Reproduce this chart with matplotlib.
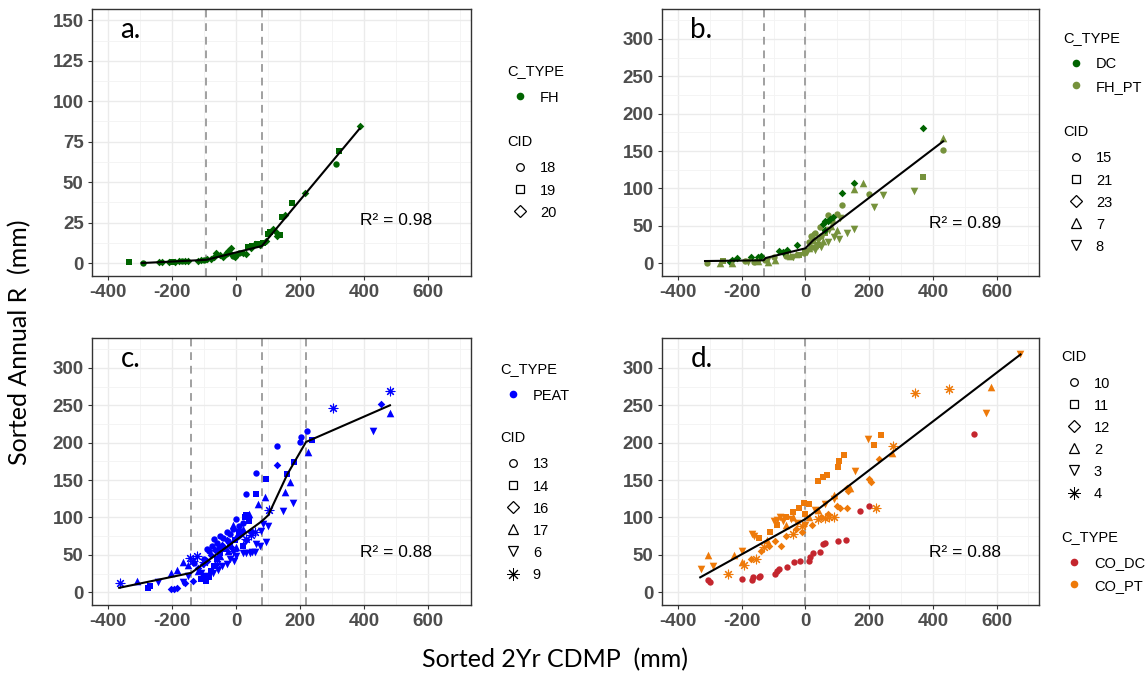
import matplotlib
matplotlib.use("Agg")
import matplotlib.pyplot as plt
from matplotlib.lines import Line2D
from matplotlib.ticker import MultipleLocator

# ---- data ----
# panel a: C_TYPE FH
a_cids = ['18', '19', '20']
a_types = ['FH', 'FH', 'FH']
a_x = [[-292, -170, -100, -32, -10, 10, 311],
       [-336, -200, 37, 50, 65, 85, 99, 105, 136, 144, 173, 322],
       [-240, -232, -210, -190, -178, -160, -150, -120, -110, -92,
        -80, -70, -62, -50, -40, -26, -20, -16, -5, 0,
        20, 30, 45, 58, 75, 92, 115, 125, 128, 152, 214, 385]]
a_y = [[0.2, 1.2, 2.0, 5.5, 4.5, 6.5, 61.0],
       [0.5, 0.9, 10.0, 10.5, 12.0, 12.5, 18.0, 19.5, 17.3, 28.6, 37.0, 69.5],
       [0.4, 0.8, 0.6, 0.8, 1.0, 1.1, 1.3, 1.4, 1.8, 2.2,
        2.6, 3.5, 6.0, 4.8, 4.0, 7.6, 6.5, 9.0, 3.5, 5.0,
        6.0, 5.5, 9.0, 11.5, 11.0, 13.5, 21.0, 19.5, 17.0, 30.0, 43.4, 84.5]]
a_fit_x = [-295, -93, 80, 385]
a_fit_y = [0.0, 2.0, 10.5, 83.0]
a_breaks = [-93, 80]

# panel b: C_TYPE DC / FH_PT
b_cids = ['15', '21', '23', '7', '8']
b_types = ['FH_PT', 'FH_PT', 'DC', 'FH_PT', 'FH_PT']
b_x = [[-310, -190, -162, -126, -100, -60, -5, 10, 16, 20, 30, 45, 50, 70, 85, 99, 115, 201, 432],
       [-260, -150, -60, -20, 0, 25, 40, 60, 368],
       [-237, -230, -216, -172, -150, -140, -83, -70, -58, -26, 55, 60, 62, 70, 78, 88, 115, 151, 370],
       [-268, -230, -150, -116, -95, -48, -30, 10, 20, 30, 55, 80, 100, 151, 182, 432],
       [-180, -120, -40, 5, 30, 40, 50, 70, 75, 90, 104, 110, 130, 153, 214, 243, 341]]
b_y = [[0.5, 3, 2, 4, 8, 10, 14, 28, 37, 22, 40, 48, 36, 64, 56, 66, 78, 93, 152],
       [3, 2, 12, 11, 16, 30, 25, 40, 115.5],
       [2, 5, 7.5, 8.5, 8.5, 9.5, 17, 15, 18, 24, 52, 44, 56, 57, 59, 62, 94, 107, 181],
       [0, 1, 3, 1.5, 4, 10, 12, 20, 38, 24, 30, 50, 45, 99, 107, 168],
       [2, 3, 9, 15, 18, 30, 22, 28, 45, 35, 33, 60, 40, 46, 75, 91, 96]]
b_fit_x = [-315, -131, -125, 0, 25, 75, 432]
b_fit_y = [3, 4, 7, 20, 31, 47, 163]
b_breaks = [-131, 0]

# panel c: C_TYPE PEAT
c_cids = ['13', '14', '16', '17', '6', '9']
c_types = ['PEAT'] * 6
c_x = [[-131, -100, -90, -84, -75, -68, -60, -55, -50, -40, -30, -25, -20, -10, 0, 5, 10, 20, 32, 63, 126, 199, 201, 222],
       [-274, -270, -110, -100, -95, -85, -80, -70, -60, -50, -35, -20, -5, 10, 20, 27, 32, 40, 61, 94, 158, 179, 237],
       [-203, -193, -185, -160, -134, -120, -105, -90, -78, -65, -45, -30, -15, 0, 15, 30, 45, 128, 452],
       [-311, -203, -184, -167, -150, -120, -50, -25, -10, 0, 20, 40, 68, 91, 152, 168, 223, 479],
       [-245, -167, -150, -109, -94, -73, -58, -45, -30, -20, -6, 1, 21, 32, 42, 50, 58, 63, 73, 78, 84, 94, 100, 146, 178, 428],
       [-363, -144, -135, -123, -100, -60, -10, 32, 47, 60, 103, 301, 479]]
c_y = [[39, 45, 58, 55, 62, 71, 66, 60, 75, 72, 80, 68, 78, 85, 98, 75, 88, 92, 132, 160, 196, 201, 208, 216],
       [6, 9, 18, 22, 15, 20, 28, 35, 45, 52, 58, 65, 70, 80, 62, 100, 104, 95, 131, 152, 158, 174, 204],
       [5, 5, 6, 12, 15, 32, 38, 42, 50, 56, 63, 70, 60, 72, 78, 70, 82, 170, 252],
       [15, 26, 30, 40, 36, 28, 48, 55, 90, 60, 85, 105, 118, 128, 134, 147, 187, 240],
       [14, 14, 22, 26, 22, 26, 30, 35, 38, 45, 42, 48, 52, 53, 53, 54, 54, 65, 62, 82, 91, 67, 88, 109, 119, 216],
       [12, 46, 42, 48, 40, 38, 55, 71, 76, 80, 110, 247, 269]]
c_fit_x = [-365, -140, 80, 100, 160, 218, 480]
c_fit_y = [6, 26, 95, 103, 158, 201, 250]
c_breaks = [-140, 80, 218]

# panel d: C_TYPE CO_DC / CO_PT
d_cids = ['10', '11', '12', '2', '3', '4']
d_types = ['CO_DC', 'CO_PT', 'CO_PT', 'CO_PT', 'CO_PT', 'CO_PT']
d_x = [[-307, -299, -198, -167, -165, -147, -141, -94, -88, -83, -57, -36, -16, 12, 15, 23, 45, 55, 63, 103, 126, 170, 201, 529],
       [-147, -110, -90, -60, -38, -21, -5, 0, 10, 38, 55, 68, 103, 104, 122, 216, 237],
       [-170, -140, -113, -96, -76, -60, -30, -10, 20, 50, 70, 99, 110, 130, 130, 135, 201, 205, 232],
       [-305, -224, -200, -120, -60, -40, 10, 40, 90, 140, 272, 583],
       [-328, -291, -200, -167, -160, -100, -90, -80, -70, -45, -27, 0, 30, 60, 90, 156, 196, 568, 674],
       [-243, -193, -156, -130, -40, -10, 40, 60, 75, 89, 222, 276, 344, 451]]
d_y = [[17, 14, 18, 17, 20, 21, 22, 25, 28, 31, 34, 40, 42, 42, 47, 52, 54, 65, 66, 68, 70, 109, 115, 212],
       [72, 80, 90, 100, 108, 113, 119, 105, 118, 149, 154, 157, 168, 176, 184, 197, 210],
       [45, 55, 62, 68, 62, 75, 85, 80, 90, 100, 105, 115, 113, 113, 140, 136, 152, 148, 178],
       [50, 50, 40, 70, 90, 100, 100, 110, 130, 140, 186, 274],
       [31, 35, 55, 78, 75, 95, 97, 100, 95, 98, 92, 90, 110, 118, 125, 162, 205, 240, 318],
       [25, 37, 44, 60, 78, 88, 98, 99, 100, 100, 113, 196, 266, 272]]
d_fit_x = [-330, 0, 675]
d_fit_y = [20, 98, 318]
d_breaks = [0]

type_colors = {'FH': '#006400', 'DC': '#006400', 'FH_PT': '#76923C',
               'PEAT': '#0000FF', 'CO_DC': '#C4262E', 'CO_PT': '#EE7A0A'}
cid_shape = {'18': 'o', '19': 's', '20': 'D',
             '15': 'o', '21': 's', '23': 'D', '7': '^', '8': 'v',
             '13': 'o', '14': 's', '16': 'D', '17': '^', '6': 'v', '9': '*',
             '10': 'o', '11': 's', '12': 'D', '2': '^', '3': 'v', '4': '*'}
ASTER = (8, 2, 0)
shape_size = {'o': 21, 's': 22, 'D': 15, '^': 30, 'v': 30, '*': 40}

W, H = 1146, 677
fig = plt.figure(figsize=(W / 100, H / 100), dpi=100)

TICKFONT = 'Liberation Sans'
LABFONT = 'Lato'


def rect(l, t, r, b):
    return [l / W, 1 - b / H, (r - l) / W, (b - t) / H]


def draw_panel(pos, cids, types, xs, ys, fit_x, fit_y, breaks, ylim, ymaj, tag, r2, r2y):
    ax = fig.add_axes(pos)
    for cid, tp, x, y in zip(cids, types, xs, ys):
        shp = cid_shape[cid]
        col = type_colors[tp]
        if shp == '*':
            ax.scatter(x, y, marker=ASTER, s=shape_size[shp], c=col, linewidths=0.8, zorder=3)
        else:
            ax.scatter(x, y, marker=shp, s=shape_size[shp], c=col, linewidths=0, zorder=3)
    for bx in breaks:
        ax.axvline(bx, color='#A0A0A0', lw=1.4, ls=(0, (4, 3)), zorder=2)
    ax.plot(fit_x, fit_y, color='black', lw=1.5, zorder=4)
    ax.set_xlim(-450, 733)
    ax.set_ylim(*ylim)
    xt = [-400, -200, 0, 200, 400, 600]
    ax.set_xticks(xt, labels=[str(v) for v in xt], fontweight='bold', family=TICKFONT)
    yt = list(range(0, int(ylim[1]) - 5, ymaj))
    ax.set_yticks(yt, labels=[str(v) for v in yt], fontweight='bold', family=TICKFONT)
    ax.xaxis.set_minor_locator(MultipleLocator(100))
    ax.yaxis.set_minor_locator(MultipleLocator(ymaj / 2))
    ax.grid(which='major', color='#EBEBEB', lw=1.0)
    ax.grid(which='minor', color='#F3F3F3', lw=0.6)
    ax.set_axisbelow(True)
    ax.tick_params(which='major', length=3, width=0.8, color='#333333',
                   labelcolor='#4D4D4D', labelsize=13.5, pad=3)
    ax.tick_params(which='minor', length=0)
    for s in ax.spines.values():
        s.set_color('#333333')
        s.set_linewidth(1.0)
    ax.text(0.075, 0.92, tag, transform=ax.transAxes, fontsize=20,
            family=LABFONT, va='center', ha='left')
    ax.text(500, r2y, 'R\u00b2 = ' + r2, fontsize=12.5, family=TICKFONT,
            ha='center', va='center', zorder=5)
    return ax


def add_legend(title, handles, labels, x_px, top_px):
    leg = fig.legend(handles, labels, title=title, loc='upper left',
                     bbox_to_anchor=(x_px / W, 1 - top_px / H), frameon=False,
                     prop={'family': TICKFONT, 'size': 10.5},
                     title_fontproperties={'family': TICKFONT, 'size': 10.5},
                     alignment='left', borderpad=0, borderaxespad=0,
                     handlelength=1.8, handletextpad=0.45, labelspacing=0.55)
    # a bit more room between the title and the first key, as in ggplot
    leg._legend_box.sep = 9
    return leg


def type_handles(names):
    return [Line2D([], [], ls='none', marker='o', ms=5.5, mew=0,
                   color=type_colors[n]) for n in names]


def cid_handles(cids):
    hs = []
    for c in cids:
        m = cid_shape[c]
        if m == '*':
            hs.append(Line2D([], [], ls='none', marker=ASTER, ms=9, mew=0.7, color='black'))
        else:
            ms = {'o': 5.5, 's': 6, 'D': 6.5, '^': 7, 'v': 7}[m]
            hs.append(Line2D([], [], ls='none', marker=m, ms=ms, mew=0.9,
                             mfc='none', mec='black'))
    return hs


draw_panel(rect(92, 9, 471, 276), a_cids, a_types, a_x, a_y, a_fit_x, a_fit_y,
           a_breaks, (-8, 157), 25, 'a.', '0.98', 26.5)
draw_panel(rect(662, 9, 1039, 276), b_cids, b_types, b_x, b_y, b_fit_x, b_fit_y,
           b_breaks, (-17, 340), 50, 'b.', '0.89', 53.5)
draw_panel(rect(92, 338, 471, 605), c_cids, c_types, c_x, c_y, c_fit_x, c_fit_y,
           c_breaks, (-17, 340), 50, 'c.', '0.88', 53.5)
draw_panel(rect(662, 338, 1039, 605), d_cids, d_types, d_x, d_y, d_fit_x, d_fit_y,
           d_breaks, (-17, 340), 50, 'd.', '0.88', 53.5)

# legends
add_legend('C_TYPE', type_handles(['FH']), ['FH'], 507, 64)
add_legend('CID', cid_handles(a_cids), a_cids, 507, 135)
add_legend('C_TYPE', type_handles(['DC', 'FH_PT']), ['DC', 'FH_PT'], 1063, 31)
add_legend('CID', cid_handles(b_cids), b_cids, 1063, 125)
add_legend('C_TYPE', type_handles(['PEAT']), ['PEAT'], 500, 362)
add_legend('CID', cid_handles(c_cids), c_cids, 500, 431)
add_legend('CID', cid_handles(d_cids), d_cids, 1061, 350)
add_legend('C_TYPE', type_handles(['CO_DC', 'CO_PT']), ['CO_DC', 'CO_PT'], 1061, 530)

fig.text(0.017, 0.495, 'Sorted Annual R  (mm)', rotation=90, fontsize=18,
         family=LABFONT, ha='center', va='center')
fig.text(0.484, 0.025, 'Sorted 2Yr CDMP  (mm)', fontsize=18,
         family=LABFONT, ha='center', va='center')

fig.savefig('out.png', dpi=100)
